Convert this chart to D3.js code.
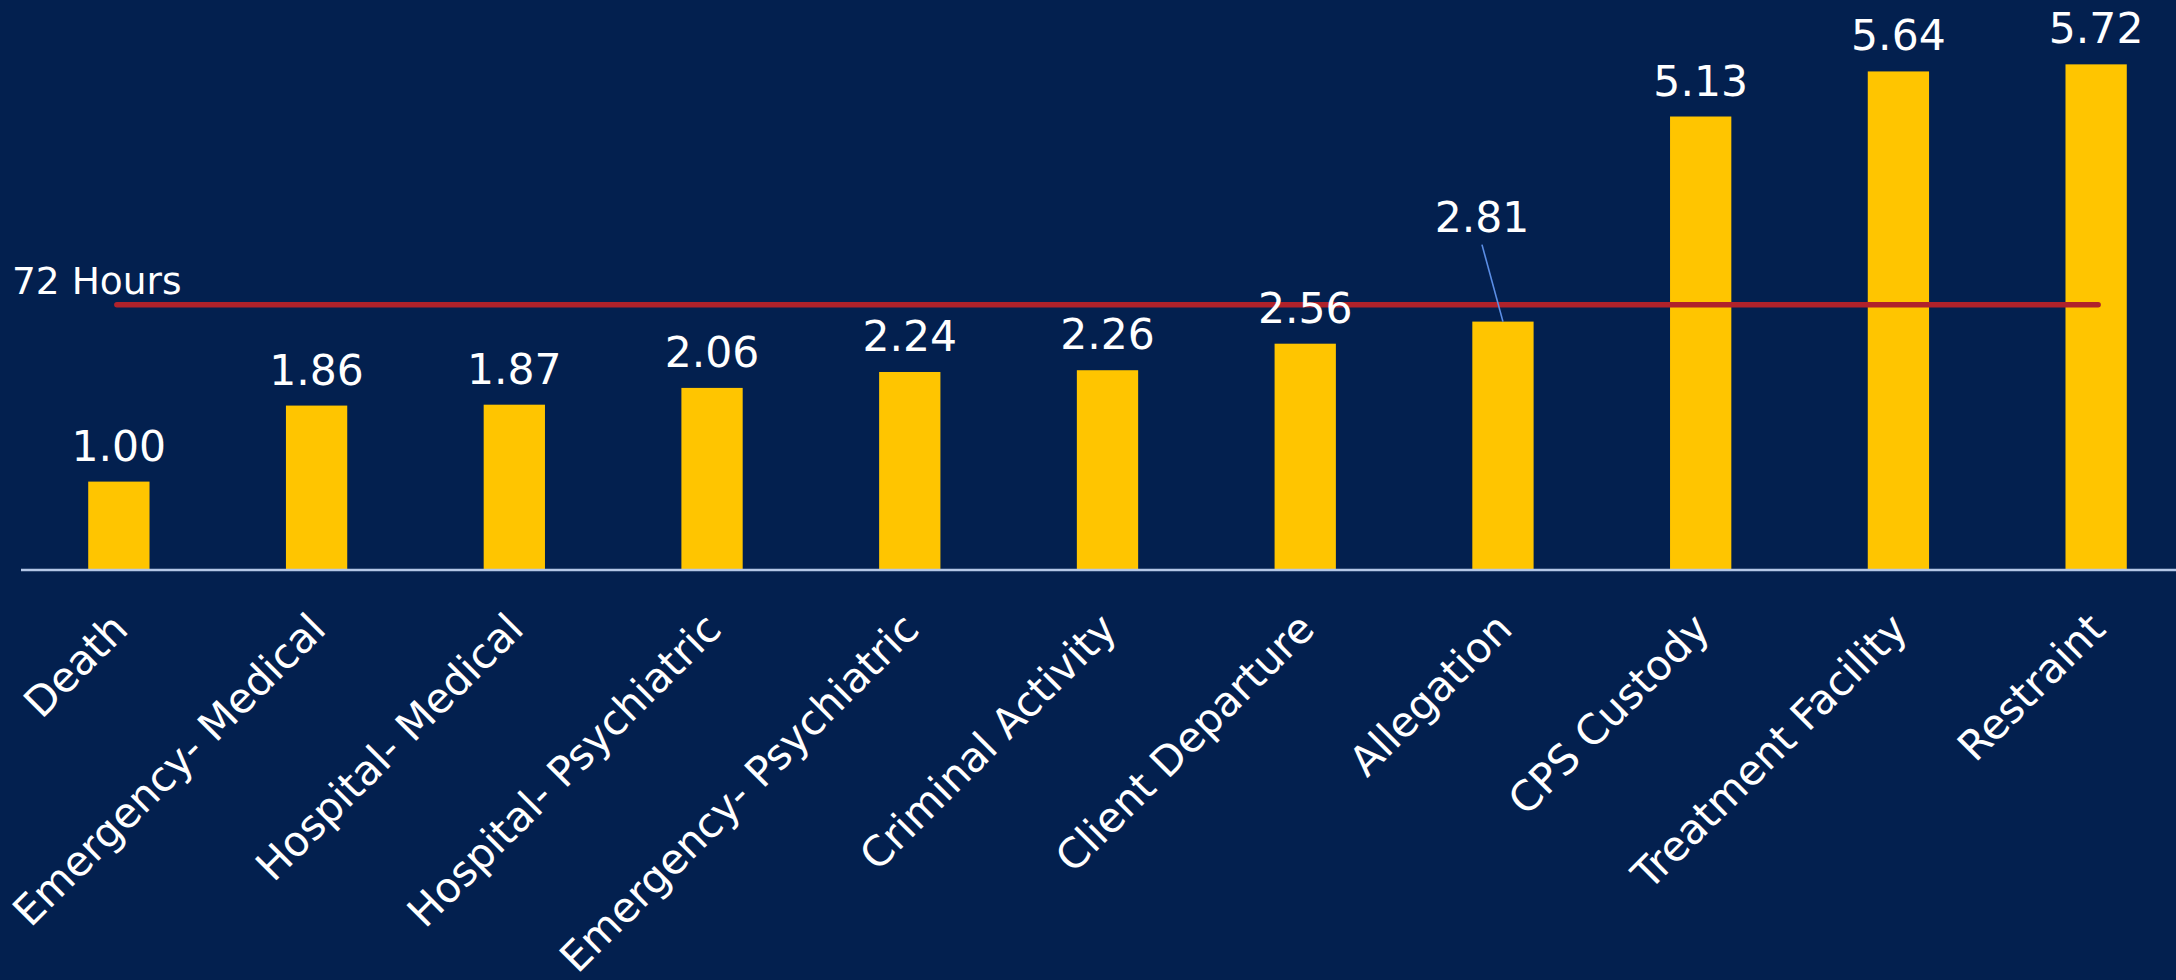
<!DOCTYPE html>
<html><head><meta charset="utf-8">
<script src="https://cdn.jsdelivr.net/npm/d3@7"></script>
<style>
html,body{margin:0;padding:0;background:#03204F;overflow:hidden;}
text{font-family:"DejaVu Sans",Verdana,sans-serif;fill:#fff;}
</style></head>
<body><svg id="c" width="2176" height="980"></svg>
<script>
const categories = ["Death","Emergency- Medical","Hospital- Medical","Hospital- Psychiatric","Emergency- Psychiatric","Criminal Activity","Client Departure","Allegation","CPS Custody","Treatment Facility","Restraint"];
const values = [1.00,1.86,1.87,2.06,2.24,2.26,2.56,2.81,5.13,5.64,5.72];
const thresholdValue = 3;
const thresholdLabel = "72 Hours";

const svg = d3.select("#c");
svg.append("rect").attr("width",2176).attr("height",980).attr("fill","#03204F");

const x = d3.scaleBand().domain(categories).range([20,2195]).paddingInner(0.69).paddingOuter(0.345);
const y = d3.scaleLinear().domain([0,6.448]).range([570,0]);

// bars
svg.append("g").selectAll("rect").data(values).join("rect")
  .attr("x",(d,i)=>x(categories[i]))
  .attr("y",d=>y(d))
  .attr("width",x.bandwidth())
  .attr("height",d=>y(0)-y(d))
  .attr("fill","#FFC500");

// axis line
const axis = d3.axisBottom(x).tickSize(0).tickFormat("");
const gx = svg.append("g").attr("transform",`translate(0,${y(0)})`).call(axis);
gx.select(".domain").attr("d","M21,0H2176").attr("stroke","#B4C7E7").attr("stroke-width",2.5);

// category labels
const cx = c => x(c)+x.bandwidth()/2;
svg.append("g").selectAll("text").data(categories).join("text")
  .attr("transform",c=>`translate(${cx(c)+1},${y(0)+51}) rotate(-45)`)
  .attr("text-anchor","end").attr("dy","0.35em")
  .attr("font-size",41.5).text(c=>c);

// threshold line
svg.append("line")
  .attr("x1",cx(categories[0])-2).attr("x2",cx(categories[categories.length-1])+2)
  .attr("y1",y(thresholdValue)).attr("y2",y(thresholdValue))
  .attr("stroke","#B0222B").attr("stroke-width",5.5).attr("stroke-linecap","round");
svg.append("text").attr("x",12).attr("y",y(thresholdValue)-11)
  .attr("font-size",37.5).text(thresholdLabel);

// value labels
const fmt = d3.format(".2f");
values.forEach((v,i)=>{
  const c = categories[i];
  if (c==="Allegation"){
    const lx = cx(c)-21, ly = y(v)-90;
    svg.append("line").attr("x1",lx).attr("y1",ly+13).attr("x2",cx(c)).attr("y2",y(v))
      .attr("stroke","#5B8EE6").attr("stroke-width",1.6);
    svg.append("text").attr("x",lx).attr("y",ly).attr("text-anchor","middle")
      .attr("font-size",42.5).text(fmt(v));
  } else {
    svg.append("text").attr("x",cx(c)).attr("y",y(v)-21).attr("text-anchor","middle")
      .attr("font-size",42.5).text(fmt(v));
  }
});
</script></body></html>
